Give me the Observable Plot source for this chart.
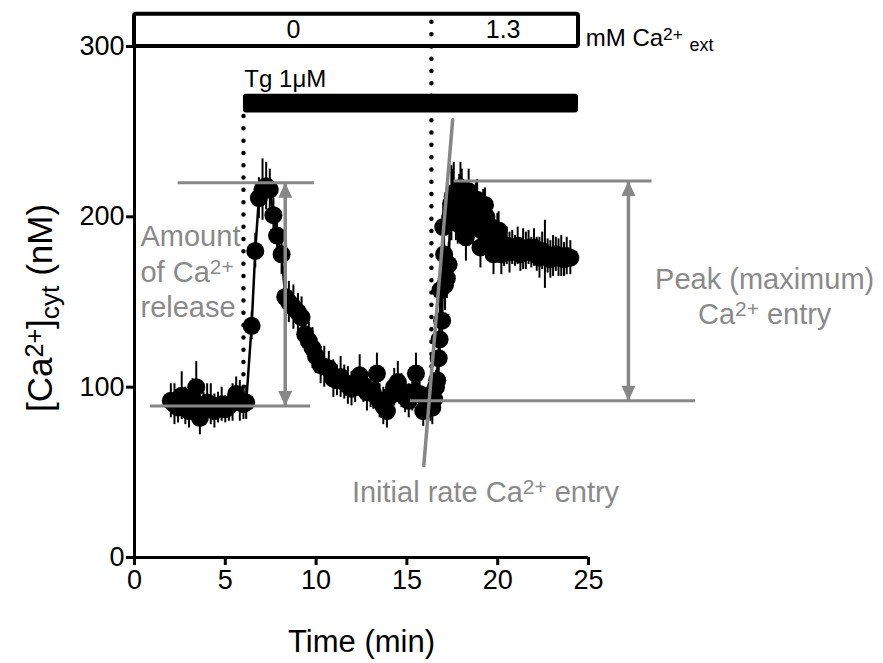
<!DOCTYPE html>
<html><head><meta charset="utf-8">
<script src="https://cdn.jsdelivr.net/npm/d3@7"></script>
<script src="https://cdn.jsdelivr.net/npm/@observablehq/plot@0.6"></script>
<style>html,body{margin:0;padding:0;background:#fff}#chart{width:883px;height:663px}</style>
</head><body><div id="chart"></div>
<script>
// ---- data ----
const time = [2.0,2.2,2.4,2.6,2.8,3.0,3.2,3.4,3.6,3.8,4.0,4.2,4.4,4.6,4.8,5.0,5.2,5.4,5.6,5.8,6.0,6.15,
  6.45,6.65,6.85,7.05,7.25,7.45,7.65,7.85,8.1,8.3,8.5,8.75,9.0,9.2,9.4,9.6,9.8,10.0,10.25,10.45,10.7,10.95,11.15,11.35,11.55,11.75,11.95,12.15,12.4,12.6,12.8,13.0,13.15,13.35,13.5,13.7,13.9,14.1,14.3,14.5,14.7,14.9,15.1,15.3,15.5,15.7,15.9,16.1,16.3,
  16.4,16.5,16.6,16.67,16.75,16.8,16.85,16.94,17.0,17.05,17.1,17.2,17.3,17.38,17.45,17.52,17.58,17.65,17.7,17.8,17.88,17.95,18.02,18.1,18.18,18.25,18.33,18.4,18.48,18.55,18.62,18.7,18.8,18.87,18.95,19.05,19.12,19.2,19.3,19.38,19.45,19.52,19.6,19.7,19.77,19.85,19.9,19.98,20.05,20.12,20.2,
  20.35,20.5,20.65,20.8,20.95,21.1,21.25,21.4,21.55,21.7,21.85,22.0,22.15,22.3,22.45,22.6,22.75,22.9,23.05,23.2,23.35,23.5,23.65,23.8,24.0];
const conc = [92,90,88,95,89,86,93,100,82,88,91,90,86,88,90,87,89,91,96,92,90,91,
  136,180,211,216,218,216,201,189,178,153,150,147,144,141,131,127,123,118,113,112,111,105,104,106,103,101,99,100,107,101,97,98,96,108,92,89,86,95,100,103,98,94,92,97,108,96,86,90,92,
  88,93,100,104,117,128,157,139,194,178,160,164,172,200,208,212,214,205,200,196,212,217,214,210,198,188,205,215,206,200,195,205,208,210,195,182,192,205,207,200,196,186,190,184,178,185,188,190,192,185,178,
  181,183,179,182,180,183,178,181,180,182,179,182,178,176,180,178,177,175,177,178,176,177,175,177,176];
const sem = [10,12,9,14,11,10,12,15,10,9,11,12,10,9,10,8,9,11,10,12,9,10,
  8,10,12,18,14,12,10,11,12,14,12,13,11,12,10,11,12,10,11,12,10,11,9,12,10,11,10,9,12,10,11,10,9,12,10,11,10,9,11,12,10,9,10,11,12,10,9,10,12,
  10,9,10,10,12,11,10,12,14,13,15,12,13,14,22,16,18,14,14,12,13,15,14,12,13,14,12,13,12,12,11,11,12,12,11,12,11,11,10,11,12,10,10,11,12,11,10,12,11,11,12,
  10,11,12,10,9,11,10,12,11,10,9,11,10,12,11,20,10,11,12,10,11,12,10,11,10];

const xTicks = [0, 5, 10, 15, 20, 25];
const yTicks = [0, 100, 200, 300];
const xLabel = "Time (min)";
const yLabel = "[Ca^{2+}]_{cyt} (nM)";

// external Ca2+ box
const boxX = [0, 24.45];
const boxY = [300, 319];
const phaseLabels = ["0", "1.3"];
const phaseLabelX = [8.75, 20.3];
const phaseLabelY = 309.5;
const caUnit = "mM Ca^{2+} _{ext}";

// thapsigargin bar
const tgLabel = "Tg 1\u03bcM";
const tgX = [6.0, 24.45];
const tgY = [261, 272];

// dotted markers
const dotX = [6.0, 16.35];
const dotY1 = [100, 112];
const dotY2 = [261, 319];

// grey annotation guides
const guideY = [220, 89, 221, 92];
const guideX1 = [2.4, 0.88, 17.6, 15.2];
const guideX2 = [9.9, 9.7, 28.5, 30.9];
const arrowX = [8.3, 27.2];
const arrowTop = [220, 221];
const arrowBottom = [89, 92];
const rateX = [15.93, 17.52];
const rateY = [54, 257];
const releaseNote = "Amount\nof Ca^{2+}\nrelease";
const peakNote = "Peak (maximum)\nCa^{2+} entry";
const rateNote = "Initial rate Ca^{2+} entry";
const noteX = [0.33, 34.7, 19.33];
const noteY = [168.5, 154, 38.2];

const data = time.map((t, i) => ({t, c: conc[i], e: sem[i]}));
const gray = "#878787";
const textGray = "#8a8a8a";
const font = "'Liberation Sans', Arial, Helvetica, sans-serif";
const triUp = {draw(ctx) { ctx.moveTo(0, 0); ctx.lineTo(-7, 15); ctx.lineTo(7, 15); ctx.closePath(); }};
const triDown = {draw(ctx) { ctx.moveTo(0, 0); ctx.lineTo(-7, -15); ctx.lineTo(7, -15); ctx.closePath(); }};

const plot = Plot.plot({
  width: 883, height: 663,
  marginLeft: 134, marginRight: 295, marginTop: 46, marginBottom: 106,
  x: {domain: [0, 25]},
  y: {domain: [0, 300]},
  style: {fontFamily: font, background: "white", overflow: "visible", color: "black"},
  marks: [
    // box
    Plot.rect([0], {x1: boxX[0], x2: boxX[1], y1: boxY[0], y2: boxY[1], fill: "white", stroke: "black", strokeWidth: 4, rx: 2}),
    Plot.text(phaseLabels, {x: phaseLabelX, y: phaseLabelY, text: d => d, fontSize: 25}),
    Plot.text([caUnit], {x: boxX[1] + 0.4, y: 305, text: d => d, textAnchor: "start", fontSize: 24}),
    // Tg bar
    Plot.rect([0], {x1: tgX[0], x2: tgX[1], y1: tgY[0], y2: tgY[1], fill: "black", rx: 3}),
    Plot.text([tgLabel], {x: tgX[0] + 0.05, y: 281, text: d => d, textAnchor: "start", fontSize: 24}),
    // dotted lines
    Plot.ruleX(dotX, {x: dotX, y1: dotY1, y2: dotY2, strokeWidth: 4.5, strokeDasharray: "0 12.3", strokeLinecap: "round"}),
    // axes
    Plot.ruleY([0], {x1: 0, x2: 25, strokeWidth: 3}),
    Plot.ruleX([0], {y1: 0, y2: 300, strokeWidth: 3}),
    Plot.axisX({ticks: xTicks, tickSize: 8, tickPadding: 4, fontSize: 27, strokeWidth: 3, label: null}),
    Plot.axisY({ticks: yTicks, tickSize: 8, tickPadding: 2, fontSize: 27, strokeWidth: 3, label: null}),
    Plot.text([xLabel], {frameAnchor: "bottom", lineAnchor: "middle", textAnchor: "middle", dy: 85, text: d => d, fontSize: 31}),
    Plot.text([yLabel], {frameAnchor: "left", lineAnchor: "middle", textAnchor: "middle", rotate: -90, dx: -94, dy: 6, text: d => d, fontSize: 35}),
    // data
    Plot.ruleX(data, {x: "t", y1: d => d.c - d.e, y2: d => d.c + d.e, strokeWidth: 2}),
    Plot.line(data, {x: "t", y: "c", strokeWidth: 2.5}),
    Plot.dot(data, {x: "t", y: "c", r: 9, fill: "black"}),
    // grey annotations
    Plot.ruleY(guideY, {y: guideY, x1: guideX1, x2: guideX2, stroke: gray, strokeWidth: 3}),
    Plot.ruleX(arrowX, {x: arrowX, y1: arrowBottom, y2: arrowTop, stroke: gray, strokeWidth: 3.5}),
    Plot.dot(arrowX, {x: arrowX, y: arrowTop, symbol: triUp, fill: gray, stroke: "none"}),
    Plot.dot(arrowX, {x: arrowX, y: arrowBottom, symbol: triDown, fill: gray, stroke: "none"}),
    Plot.line(rateX, {x: rateX, y: rateY, stroke: gray, strokeWidth: 3.5}),
    Plot.text([releaseNote], {x: noteX[0], y: noteY[0], text: d => d, textAnchor: "start", fill: textGray, fontSize: 29, lineHeight: 1.22}),
    Plot.text([peakNote], {x: noteX[1], y: noteY[1], text: d => d, textAnchor: "middle", fill: textGray, fontSize: 29, lineHeight: 1.2}),
    Plot.text([rateNote], {x: noteX[2], y: noteY[2], text: d => d, textAnchor: "middle", fill: textGray, fontSize: 29})
  ]
});

function richify(root) {
  const walker = document.createTreeWalker(root, NodeFilter.SHOW_TEXT);
  const nodes = [];
  while (walker.nextNode()) nodes.push(walker.currentNode);
  for (const n of nodes) {
    const s = n.nodeValue;
    if (!/[\^_]\{/.test(s)) continue;
    const frag = document.createDocumentFragment();
    const re = /([\^_])\{([^}]*)\}/g;
    let last = 0, m;
    while ((m = re.exec(s))) {
      if (m.index > last) frag.appendChild(document.createTextNode(s.slice(last, m.index)));
      const t = document.createElementNS("http://www.w3.org/2000/svg", "tspan");
      t.setAttribute("baseline-shift", m[1] === "^" ? "38%" : "-28%");
      t.setAttribute("font-size", m[1] === "^" ? "72%" : "75%");
      t.textContent = m[2];
      frag.appendChild(t);
      last = re.lastIndex;
    }
    if (last < s.length) frag.appendChild(document.createTextNode(s.slice(last)));
    n.parentNode.replaceChild(frag, n);
  }
}
richify(plot);
document.getElementById("chart").appendChild(plot);
</script>
</body></html>
